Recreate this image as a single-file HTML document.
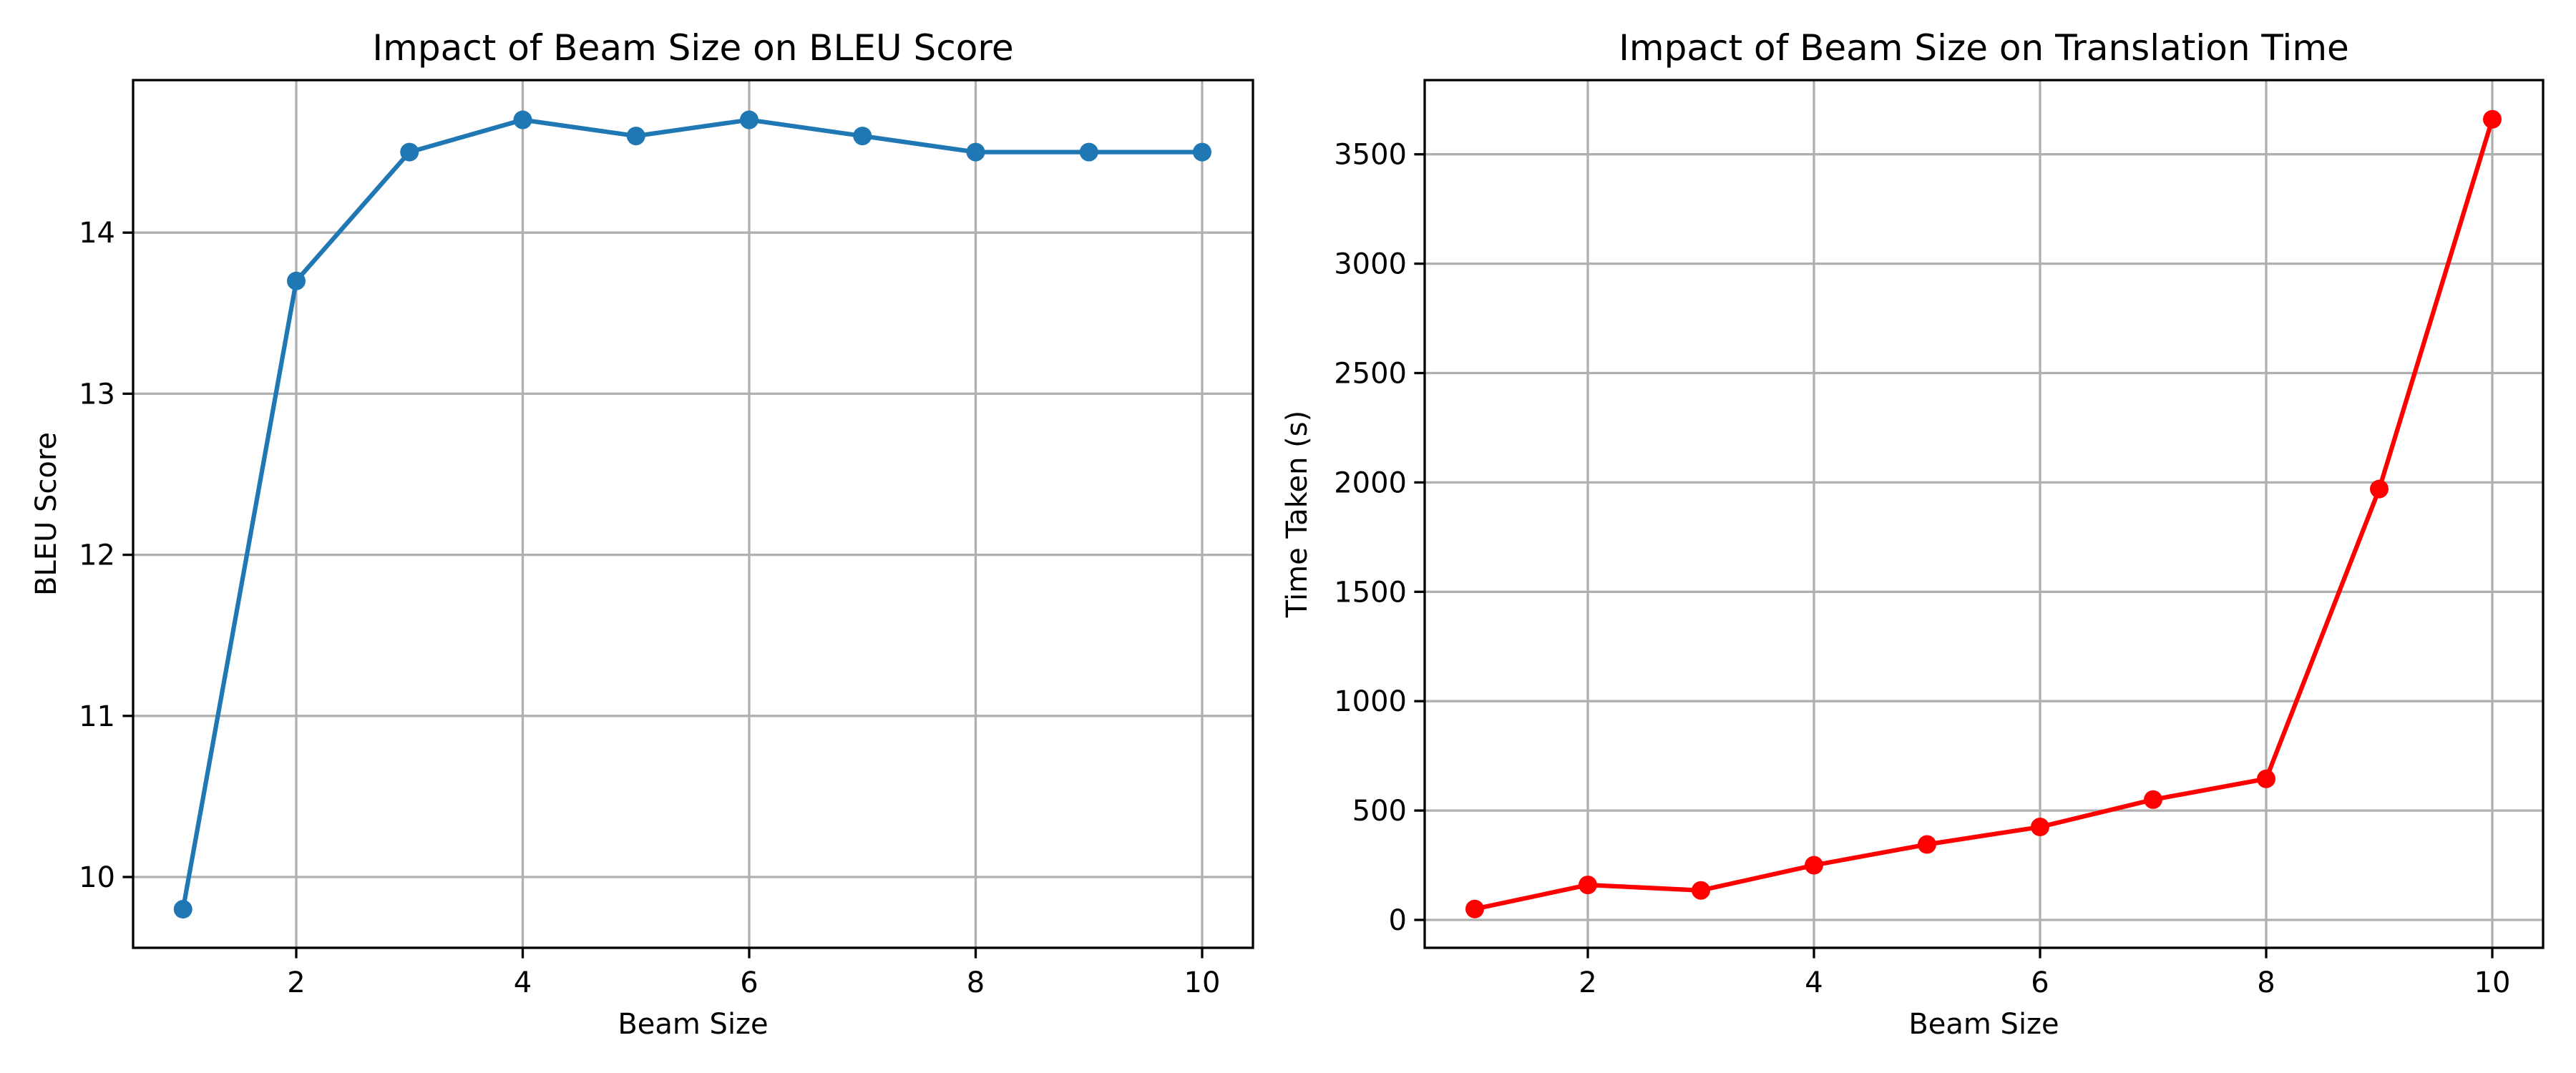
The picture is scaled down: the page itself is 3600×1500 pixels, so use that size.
<!DOCTYPE html>
<html><head><meta charset="utf-8"><style>
html,body{margin:0;padding:0;background:#fff;}
svg{display:block;font-family:"DejaVu Sans","Liberation Sans",sans-serif;}
</style></head><body>
<svg id="fig" width="3600" height="1500" viewBox="0 0 3600 1500"></svg>
<script>
const beamSizes = [1,2,3,4,5,6,7,8,9,10];
const bleuScores = [9.8,13.7,14.5,14.7,14.6,14.7,14.6,14.5,14.5,14.5];
const timeTaken = [50,160,135,250,345,425,550,645,1970,3660];
const xTicks = [2,4,6,8,10];
const bleuTicks = [10,11,12,13,14];
const timeTicks = [0,500,1000,1500,2000,2500,3000,3500];

const NS="http://www.w3.org/2000/svg";
const svg=document.getElementById('fig');
function mk(tag,attrs,parent){const e=document.createElementNS(NS,tag);for(const k in attrs)e.setAttribute(k,attrs[k]);(parent||svg).appendChild(e);return e;}

function panel(cfg){
  const g=mk('g',{});
  
  
  const {x0,x1,y0,y1}=cfg;
  const xs=v=>cfg.xA+(v-cfg.xV)*cfg.xK;
  const ys=v=>cfg.yA-(v-cfg.yV)*cfg.yK;
  xTicks.forEach(t=>{const l=mk('line',{x1:xs(t),x2:xs(t),y1:y0,y2:y1,stroke:'#b0b0b0','stroke-width':3.3},g);
    });
  cfg.yTicks.forEach(t=>{const l=mk('line',{x1:x0,x2:x1,y1:ys(t),y2:ys(t),stroke:'#b0b0b0','stroke-width':3.3},g);
    });
  xTicks.forEach(t=>{mk('line',{x1:xs(t),x2:xs(t),y1:y1,y2:y1+14.6,stroke:'#000','stroke-width':3.3},g);
    const tx=mk('text',{x:xs(t),y:y1+62,'font-size':40,'text-anchor':'middle',fill:'#000'},g);tx.textContent=t;
    });
  cfg.yTicks.forEach(t=>{mk('line',{x1:x0-14.6,x2:x0,y1:ys(t),y2:ys(t),stroke:'#000','stroke-width':3.3},g);
    const tx=mk('text',{x:x0-25,y:ys(t)+14,'font-size':40,'text-anchor':'end',fill:'#000'},g);tx.textContent=t;
    });
  const pts=beamSizes.map((b,i)=>xs(b)+','+ys(cfg.vals[i])).join(' ');
  const pl=mk('polyline',{points:pts,fill:'none',stroke:cfg.color,'stroke-width':6.25,'stroke-linejoin':'round'},g);
  
  beamSizes.forEach((b,i)=>{const c=mk('circle',{cx:xs(b),cy:ys(cfg.vals[i]),r:13,fill:cfg.color},g);
    });
  const fr=mk('rect',{x:x0,y:y0,width:x1-x0,height:y1-y0,fill:'none',stroke:'#000','stroke-width':3.3},g);
  
  const ti=mk('text',{x:(x0+x1)/2,y:84,'font-size':50,'text-anchor':'middle',fill:'#000'},g);ti.textContent=cfg.title;
  
  const xl=mk('text',{x:(x0+x1)/2,y:1445,'font-size':40,'text-anchor':'middle',fill:'#000'},g);xl.textContent='Beam Size';
  
  const cy=(y0+y1)/2;
  const yl=mk('text',{x:cfg.ylx,y:cy,'font-size':40,'text-anchor':'middle',fill:'#000',transform:`rotate(-90 ${cfg.ylx} ${cy})`},g);yl.textContent=cfg.ylabel;
  
}
panel({name:'bleu-chart',x0:186,x1:1751,y0:112,y1:1325,xA:414,xV:2,xK:158.25,yA:1226,yV:10,yK:225.2,
  yTicks:bleuTicks,vals:bleuScores,color:'#1f77b4',title:'Impact of Beam Size on BLEU Score',ylabel:'BLEU Score',ylx:78});
panel({name:'time-chart',x0:1991,x1:3554,y0:112,y1:1325,xA:2219,xV:2,xK:158,yA:1286,yV:0,yK:0.3058,
  yTicks:timeTicks,vals:timeTaken,color:'#ff0000',title:'Impact of Beam Size on Translation Time',ylabel:'Time Taken (s)',ylx:1826});
</script>
</body></html>
